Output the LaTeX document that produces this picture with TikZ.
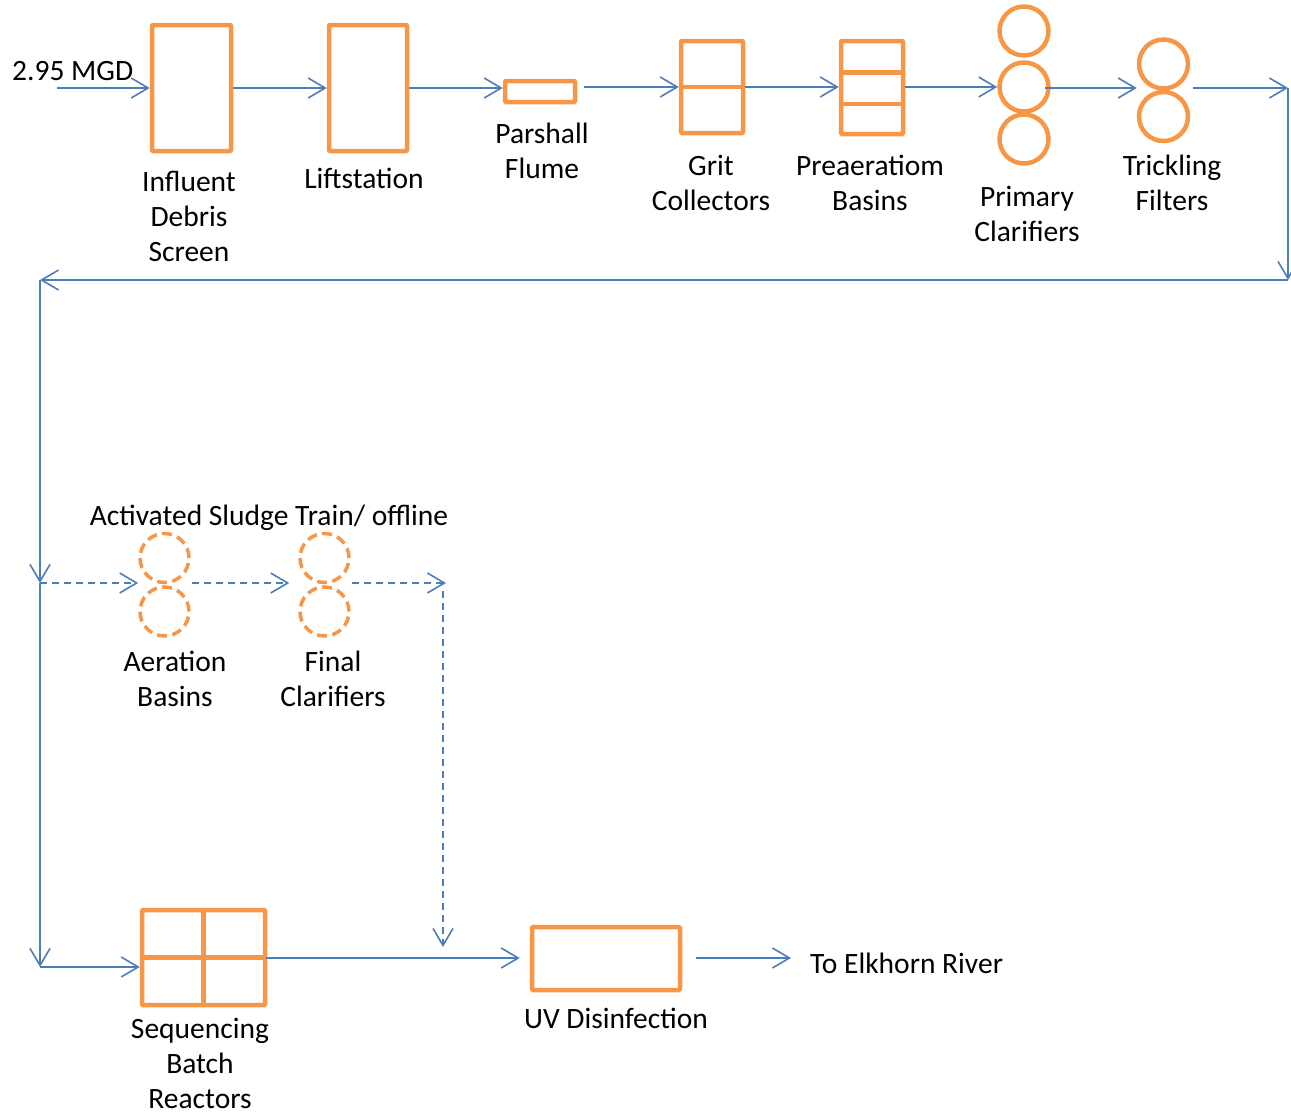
\documentclass[tikz,border=0pt]{standalone}
\usepackage{fontspec}
\setmainfont{Carlito}
\usetikzlibrary{arrows.meta,calc}
\definecolor{flowblue}{HTML}{4A7EBB}
\definecolor{unitorange}{HTML}{F79646}
\begin{document}
\begin{tikzpicture}[x=1pt,y=-1pt,
  unitbox/.style={draw=unitorange,line width=4.5pt,rounded corners=1pt,inner sep=0pt,fill=white},
  tank/.style={circle,draw=unitorange,line width=4.5pt,minimum size=49pt,inner sep=0pt},
  offtank/.style={circle,draw=unitorange,line width=3.5pt,minimum size=49pt,inner sep=0pt,dash pattern=on 10pt off 5.4pt},
  divider/.style={draw=unitorange,line width=4.5pt},
  flow/.style={draw=flowblue,line width=1.6pt,-{Straight Barb[length=17pt,width=20pt,line width=1.6pt]}},
  offflow/.style={flow,dash pattern=on 7pt off 5pt},
  lbl/.style={font=\fontsize{29.5}{35}\selectfont,align=center,inner sep=0pt,anchor=north,execute at begin node=\strut},
  txt/.style={font=\fontsize{29.5}{35}\selectfont,inner sep=0pt}]
\useasboundingbox (0,0) rectangle (1291,1114);

% ---- units, top row
\node[unitbox,minimum width=79pt,minimum height=126pt] (ids) at (191.5,88) {};
\node[unitbox,minimum width=78pt,minimum height=126pt] (lift) at (368,88) {};
\node[unitbox,minimum width=70pt,minimum height=21pt] (flume) at (540,91.5) {};
\node[unitbox,minimum width=62pt,minimum height=92pt] (grit) at (712,87) {};
\draw[divider] (grit.west) -- (grit.east);
\node[unitbox,minimum width=62pt,minimum height=93pt] (pre) at (872,87.5) {};
\draw[divider] ($(pre.north west)!0.345!(pre.south west)$) -- ($(pre.north east)!0.345!(pre.south east)$);
\draw[divider] ($(pre.north west)!0.67!(pre.south west)$) -- ($(pre.north east)!0.67!(pre.south east)$);
\node[tank] (pc1) at (1024,31) {};
\node[tank] (pc2) at (1024,87) {};
\node[tank] (pc3) at (1024,139) {};
\node[tank] (tf1) at (1163.5,64) {};
\node[tank] (tf2) at (1163.5,116.5) {};
\coordinate (tfmid) at (1163.5,88);

% ---- activated sludge train (offline)
\node[offtank] (ab1) at (164.5,558) {};
\node[offtank] (ab2) at (164.5,611.5) {};
\node[offtank] (fc1) at (324.5,558) {};
\node[offtank] (fc2) at (324.5,611.5) {};

% ---- bottom units
\node[unitbox,minimum width=123pt,minimum height=95pt] (sbr) at (203.5,957.5) {};
\draw[divider] (sbr.north) -- (sbr.south);
\draw[divider] (sbr.west) -- (sbr.east);
\node[unitbox,minimum width=148pt,minimum height=63pt] (uv) at (606,958.5) {};

% ---- labels
\node[txt,anchor=base west] (mgd) at (12,80) {2.95 MGD};
\node[lbl] (idsl) at (189,170.5) {Influent\\Debris\\Screen};
\node[lbl] (liftl) at (364,163.5) {Liftstation};
\node[lbl] (flumel) at (542,122.5) {Parshall\\Flume};
\node[lbl] (gritl) at (711,154.5) {Grit\\Collectors};
\node[lbl] (prel) at (870,154.5) {Preaeratiom\\Basins};
\node[lbl] (pcl) at (1027,186) {Primary\\Clarifiers};
\node[lbl] (tfl) at (1172,154.5) {Trickling\\Filters};
\node[txt,anchor=base] (asl) at (269,525) {Activated Sludge Train/ offline};
\node[lbl] (abl) at (175,650.5) {Aeration\\Basins};
\node[lbl] (fcl) at (333,650.5) {Final\\Clarifiers};
\node[lbl] (sbrl) at (200,1017.5) {Sequencing\\Batch\\Reactors};
\node[lbl] (uvl) at (616,1003.5) {UV Disinfection};
\node[txt,anchor=base west] (river) at (810,973) {To Elkhorn River};

% ---- connector points
\coordinate (in) at (57,88);
\coordinate (c1) at (1288,88);
\coordinate (c2) at (1288,280);
\coordinate (c3) at (40,280);
\coordinate (c4) at (40,583);
\coordinate (c5) at (40,967);
\coordinate (c6) at (446,583);
\coordinate (c6b) at (443,591);
\coordinate (c7) at (443,947);
\coordinate (c8) at (791,958);
\coordinate (sbrout) at (266,958);

% ---- main flow
\draw[flow] (in) -- (ids.west);
\draw[flow] (ids.east) -- (lift.west);
\draw[flow] (lift.east) -- (lift.east -| flume.west);
\draw[flow] ([xshift=7pt]grit.west -| flume.east) -- (grit.west);
\draw[flow] (grit.east) -- (pre.west |- grit.east);
\draw[flow] (pre.east |- pc2.west) -- (pc2.west);
\draw[flow] ([xshift=-6pt]pc2.east |- tfmid) -- (tfmid -| tf1.west);
\draw[flow] ([xshift=3pt]tfmid -| tf1.east) -- (c1);
\draw[flow] (c1) -- (c2);
\draw[flow] (c2) -- (c3);
\draw[flow] (c3) -- (c4);
\draw[flow] (c4) -- (c5);
\draw[flow] (c5) -- (c5 -| sbr.west);
\draw[flow,shorten >=10pt] (sbrout) -- (sbrout -| uv.west);
\draw[flow] ([xshift=14pt]uv.east |- c8) -- (c8);

% ---- offline train
\draw[offflow] (c4) -- (c4 -| ab1.west);
\draw[offflow,shorten >=9pt] ([xshift=1pt]c4 -| ab1.east) -- (c4 -| fc1.west);
\draw[offflow] ([xshift=1pt]c4 -| fc1.east) -- (c6);
\draw[offflow] (c6b) -- (c7);
\end{tikzpicture}
\end{document}
